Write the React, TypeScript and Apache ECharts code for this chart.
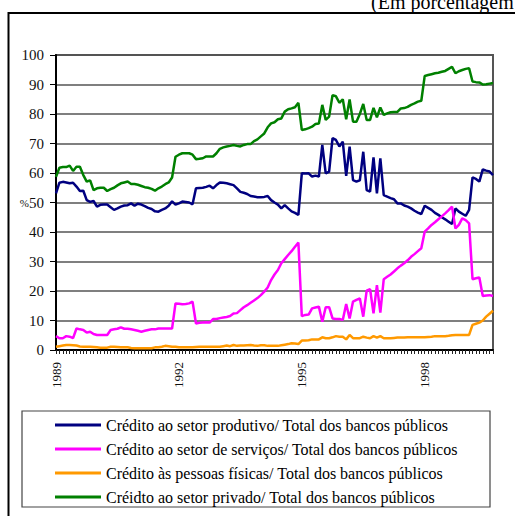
import React, { useEffect, useRef } from "react";
import * as echarts from "echarts";

const startYear = 1989;
const monthCount = 129;
const labelYears = ["1989", "1992", "1995", "1998"];
const yTicks = [0, 10, 20, 30, 40, 50, 60, 70, 80, 90, 100];

const seriesNames = [
  "Crédito ao setor produtivo/ Total dos bancos públicos",
  "Crédito ao setor de serviços/ Total dos bancos públicos",
  "Crédito às pessoas físicas/ Total dos bancos públicos",
  "Créidto ao setor privado/ Total dos bancos públicos",
];

const produtivo = [
  53.1, 56.7, 57.0, 56.8, 56.5, 56.7, 55.4, 53.9, 54.0, 50.8,
  50.2, 50.5, 48.6, 49.2, 49.3, 49.3, 48.4, 47.5, 48.0, 48.6,
  49.0, 49.1, 49.7, 48.9, 49.6, 49.3, 48.8, 48.2, 47.8, 47.0,
  46.9, 47.5, 48.0, 48.9, 50.4, 49.3, 49.7, 50.3, 50.2, 50.0,
  49.4, 54.8, 54.9, 55.0, 55.3, 55.7, 54.8, 55.9, 56.8, 56.7,
  56.5, 56.2, 55.9, 54.8, 53.6, 53.3, 52.9, 52.2, 52.0, 51.8,
  51.8, 51.9, 52.2, 50.8, 50.0, 49.3, 48.0, 49.1, 48.0, 47.0,
  46.5, 45.8, 59.9, 59.8, 59.9, 58.8, 59.1, 58.8, 69.5, 59.9,
  60.5, 71.8, 71.2, 69.0, 70.6, 59.0, 68.9, 57.6, 57.1, 57.5,
  67.2, 54.2, 53.7, 65.3, 53.1, 65.0, 52.5, 52.0, 51.5, 51.1,
  49.7, 49.7, 49.0, 48.6, 48.0, 47.2, 46.6, 46.1, 48.9, 48.2,
  47.5, 46.5, 45.8, 45.0, 44.3, 43.5, 42.7, 48.0, 46.9, 46.2,
  45.5, 47.5, 58.5, 58.0, 57.1, 61.2, 60.8, 60.5, 59.3,
];

const servicos = [
  4.7, 4.0, 4.0, 4.7, 4.5, 4.0, 7.3, 7.0, 6.8, 5.9,
  6.2, 5.4, 5.1, 5.1, 5.1, 5.1, 6.8, 7.0, 7.2, 7.7,
  7.2, 7.2, 7.0, 6.8, 6.5, 6.2, 6.5, 6.8, 7.0, 7.0,
  7.3, 7.3, 7.3, 7.3, 7.3, 15.8, 15.7, 15.5, 15.6, 15.8,
  16.4, 9.0, 9.2, 9.3, 9.4, 9.3, 10.5, 10.5, 10.8, 11.0,
  11.2, 11.5, 12.4, 12.5, 13.5, 14.5, 15.2, 16.0, 16.8, 17.6,
  18.6, 19.8, 21.2, 23.7, 25.6, 27.1, 29.4, 30.8, 32.2, 33.5,
  35.0, 36.4, 11.5, 11.9, 12.0, 14.1, 14.4, 14.7, 9.6, 14.5,
  14.5, 10.7, 10.5, 10.5, 10.2, 15.6, 10.7, 16.4, 17.0, 17.5,
  11.3, 20.1, 20.6, 12.4, 22.0, 12.7, 24.0, 24.8, 25.6, 26.6,
  27.7, 28.6, 29.4, 30.4, 31.6, 32.5, 33.5, 34.5, 40.1, 41.2,
  42.4, 43.3, 44.3, 45.3, 46.3, 47.4, 48.6, 41.2, 42.4, 44.6,
  44.0, 42.9, 24.0, 24.3, 24.6, 18.3, 18.5, 18.6, 18.3,
];

const pessoasFisicas = [
  1.1, 1.3, 1.5, 1.7, 1.7, 1.6, 1.5, 1.2, 1.1, 1.1,
  1.1, 1.0, 0.9, 0.8, 0.8, 0.8, 1.1, 1.1, 1.0, 0.9,
  0.9, 0.9, 0.7, 0.6, 0.6, 0.6, 0.6, 0.6, 0.6, 0.9,
  0.9, 1.1, 1.4, 1.3, 1.1, 1.1, 0.9, 0.9, 0.9, 0.9,
  0.9, 1.0, 1.1, 1.1, 1.1, 1.1, 1.1, 1.1, 1.1, 1.3,
  1.5, 1.3, 1.7, 1.4, 1.5, 1.5, 1.6, 1.7, 1.5, 1.4,
  1.6, 1.6, 1.4, 1.4, 1.4, 1.4, 1.6, 1.8, 2.0, 2.3,
  2.2, 2.0, 3.2, 3.2, 3.3, 3.6, 3.6, 3.6, 4.3, 4.0,
  4.0, 4.3, 4.7, 4.5, 4.5, 3.6, 5.1, 4.0, 4.0, 4.0,
  4.5, 4.2, 4.0, 4.7, 4.2, 4.7, 4.0, 4.0, 4.0, 4.1,
  4.2, 4.2, 4.2, 4.3, 4.3, 4.3, 4.3, 4.3, 4.3, 4.4,
  4.5, 4.7, 4.7, 4.7, 4.7, 4.8, 5.0, 5.1, 5.1, 5.1,
  5.1, 5.1, 8.5, 8.9, 9.3, 10.0, 11.3, 12.3, 13.3,
];

const privado = [
  58.7, 61.8, 62.0, 62.0, 62.5, 60.7, 62.1, 62.1, 59.3, 57.1,
  57.5, 54.2, 54.8, 55.0, 55.0, 53.9, 54.5, 55.0, 55.8, 56.5,
  56.8, 57.1, 56.3, 56.3, 56.0, 55.6, 55.2, 55.0, 54.6, 54.0,
  54.8, 55.4, 56.2, 56.8, 58.5, 65.5, 66.2, 66.7, 66.7, 66.7,
  66.2, 64.7, 64.8, 65.0, 65.6, 65.6, 65.6, 66.7, 68.2, 68.7,
  69.0, 69.2, 69.5, 69.2, 69.0, 69.5, 69.8, 69.8, 70.8, 71.4,
  72.4, 73.4, 75.5, 76.8, 77.2, 78.2, 78.5, 80.8, 81.6, 81.9,
  82.3, 83.8, 74.6, 74.8, 75.2, 75.7, 76.6, 76.8, 83.1, 78.0,
  79.1, 86.4, 86.0, 83.8, 85.0, 78.2, 84.9, 77.4, 77.4, 80.0,
  83.4, 78.0, 78.0, 82.1, 78.9, 82.2, 79.7, 80.2, 80.6, 80.7,
  80.7, 81.9, 82.0, 82.4, 83.1, 83.6, 84.2, 84.5, 92.9, 93.2,
  93.5, 93.8, 94.0, 94.3, 94.6, 95.3, 96.0, 93.8, 94.5, 94.9,
  95.3, 95.5, 91.0, 90.8, 90.7, 90.0, 90.1, 90.3, 90.5,
];

const colors = ["#000080", "#FF00FF", "#FF9900", "#008000"];

const FONT = "serif";

function buildCategories(): string[] {
  const out: string[] = [];
  for (let k = 0; k < monthCount; k++) {
    const y = startYear + Math.floor(k / 12);
    const m = (k % 12) + 1;
    out.push(`${y}-${m < 10 ? "0" + m : m}`);
  }
  return out;
}

export default function App() {
  const ref = useRef<HTMLDivElement>(null);

  useEffect(() => {
    if (!ref.current) return;
    const chart = echarts.init(ref.current, null, { renderer: "svg" });
    const categories = buildCategories();
    const allData = [produtivo, servicos, pessoasFisicas, privado];

    const option: any = {
      animation: false,
      backgroundColor: "#ffffff",
      textStyle: { fontFamily: FONT },
      grid: {
        left: 56,
        right: 22,
        top: 55,
        bottom: 166,
        show: true,
        borderColor: "#555555",
        borderWidth: 2,
      },
      legend: {
        orient: "vertical",
        left: 55,
        top: 413,
        padding: 0,
        height: 100,
        itemWidth: 46,
        itemHeight: 3,
        itemGap: 0,
        icon: "rect",
        data: seriesNames,
        textStyle: {
          fontFamily: FONT,
          fontSize: 16,
          color: "#000",
          lineHeight: 24,
        },
      },
      xAxis: {
        type: "category",
        boundaryGap: false,
        data: categories,
        axisLine: { show: true, lineStyle: { color: "#000", width: 2 } },
        axisTick: {
          show: true,
          interval: 0,
          length: 4,
          lineStyle: { color: "#222", width: 1 },
        },
        splitLine: { show: false },
        axisLabel: {
          interval: (index: number, value: string) =>
            index % 12 === 0 && labelYears.indexOf(value.slice(0, 4)) >= 0,
          rotate: 90,
          margin: 12,
          fontFamily: FONT,
          fontSize: 13,
          color: "#111",
          formatter: (value: string) => value.slice(0, 4),
        },
      },
      yAxis: {
        type: "value",
        min: yTicks[0],
        max: yTicks[yTicks.length - 1],
        interval: 10,
        axisLine: { show: true, lineStyle: { color: "#000", width: 2 } },
        axisTick: {
          show: true,
          length: 6,
          lineStyle: { color: "#000", width: 1 },
        },
        splitLine: { show: true, lineStyle: { color: "#555", width: 1.5 } },
        axisLabel: {
          margin: 12,
          fontFamily: FONT,
          fontSize: 15,
          color: "#111",
          formatter: (v: number) => (v === 50 ? "{p|%}{n|50}" : String(v)),
          rich: {
            p: { fontFamily: FONT, fontSize: 11, color: "#111" },
            n: { fontFamily: FONT, fontSize: 15, color: "#111" },
          },
        },
      },
      series: [3, 0, 1, 2].map((k) => ({
        name: seriesNames[k],
        type: "line",
        data: allData[k],
        showSymbol: false,
        symbol: "none",
        color: colors[k],
        lineStyle: { color: colors[k], width: 2.5 },
        z: 3,
      })),
      graphic: [
        {
          type: "rect",
          shape: { x: 8.5, y: 13, width: 540, height: 540 },
          style: { fill: "none", stroke: "#000", lineWidth: 2 },
          silent: true,
        },
        {
          type: "rect",
          shape: { x: 22, y: 411, width: 468, height: 96 },
          style: { fill: "none", stroke: "#444", lineWidth: 1.2 },
          silent: true,
        },
        {
          type: "text",
          x: 371,
          y: 12,
          style: {
            text: "(Em porcentagem)",
            fontFamily: FONT,
            fontSize: 20,
            fill: "#000",
            verticalAlign: "bottom",
            align: "left",
          },
          silent: true,
        },
      ],
    };

    chart.setOption(option);
    return () => chart.dispose();
  }, []);

  return (
    <div
      ref={ref}
      style={{ position: "absolute", left: 0, top: 0, width: 515, height: 516 }}
    />
  );
}
